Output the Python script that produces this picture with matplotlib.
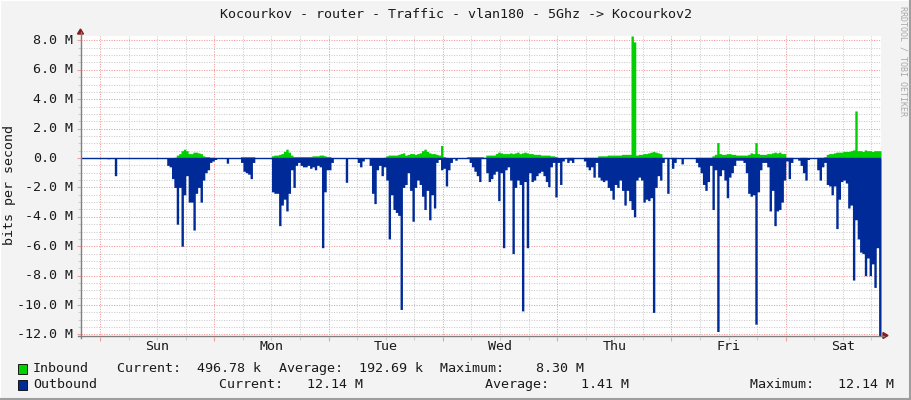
import numpy as np
import matplotlib
matplotlib.use("Agg")
import matplotlib.pyplot as plt
from matplotlib.lines import Line2D
from matplotlib.patches import Polygon, Rectangle
from matplotlib.transforms import blended_transform_factory

W, H = 911, 400

# 30 minute samples in Mbit/s, the week starts Sat 20:00 (8 samples before Sun 00:00)
pre_in = [0, 0, 0, 0, 0, 0, 0, 0]
pre_out = [0, 0, 0, 0, 0, 0, 0, 0]

sun_in = [0, 0, 0, 0, 0, 0, 0, 0,
          0, 0, 0, 0, 0, 0, 0, 0,
          0, 0, 0, 0, 0, 0, 0, 0,
          0, 0, 0, 0, 0, 0, 0, 0.05,
          0.2, 0.3, 0.5, 0.6, 0.5, 0.3, 0.3, 0.4,
          0.4, 0.35, 0.3, 0.15, 0.1, 0.1, 0.05, 0.05]
sun_out = [0, 0, 0, -0.05, 0, 0, -1.2, 0,
           0, 0, 0, 0, 0, 0, 0, 0,
           0, 0, 0, 0, 0, 0, 0, 0,
           0, 0, 0, 0, -0.5, -0.6, -1.4, -2.0,
           -4.5, -2.0, -6.0, -2.5, -1.2, -3.0, -3.0, -4.9,
           -2.4, -2.0, -3.0, -1.5, -1.0, -0.8, -0.3, -0.2]

mon_in = [0, 0, 0, 0, 0, 0, 0, 0,
          0, 0, 0, 0.1, 0.1, 0.1, 0.1, 0.1,
          0.1, 0, 0, 0, 0, 0, 0, 0,
          0.15, 0.2, 0.2, 0.25, 0.3, 0.45, 0.6, 0.4,
          0.2, 0.1, 0.1, 0.1, 0.1, 0.1, 0.1, 0.1,
          0.1, 0.15, 0.15, 0.15, 0.2, 0.2, 0.15, 0.1]
mon_out = [-0.1, 0, 0, 0, 0, -0.35, 0, 0,
           0, 0, 0, -0.3, -0.9, -1.0, -1.1, -1.4,
           -0.3, 0, 0, 0, 0, 0, 0, 0,
           -2.3, -2.4, -2.4, -4.6, -3.2, -2.8, -3.6, -2.4,
           -0.8, -2.0, -0.5, -0.3, -0.5, -0.6, -0.6, -0.5,
           -0.7, -0.6, -0.8, -0.5, -0.6, -6.1, -2.3, -0.8]

tue_in = [0.1, 0, 0, 0, 0, 0, 0, 0,
          0, 0, 0, 0, 0, 0, 0, 0,
          0, 0, 0, 0, 0, 0, 0, 0.05,
          0.15, 0.2, 0.2, 0.2, 0.2, 0.25, 0.3, 0.35,
          0.2, 0.25, 0.3, 0.3, 0.25, 0.3, 0.35, 0.5,
          0.6, 0.45, 0.35, 0.3, 0.3, 0.25, 0.2, 0.85]
tue_out = [-0.8, -0.3, 0, 0, 0, 0, 0, -1.65,
           0, 0, 0, 0, -0.3, -0.6, -0.2, 0,
           0, -0.5, -2.4, -3.1, -0.8, -0.5, -1.2, -0.6,
           -1.5, -5.5, -2.5, -3.5, -3.7, -3.9, -10.3, -2.0,
           -1.8, -1.0, -2.2, -4.3, -2.0, -1.5, -1.8, -2.6,
           -3.5, -2.2, -4.2, -2.5, -3.4, -0.3, -0.1, -0.8]

wed_in = [0.1, 0.05, 0, 0, 0, 0, 0, 0,
          0, 0, 0.1, 0.1, 0.1, 0.1, 0.1, 0.1,
          0.1, 0.05, 0.2, 0.2, 0.2, 0.2, 0.3, 0.4,
          0.35, 0.3, 0.3, 0.3, 0.35, 0.3, 0.35, 0.4,
          0.3, 0.35, 0.4, 0.35, 0.3, 0.3, 0.25, 0.25,
          0.25, 0.2, 0.2, 0.2, 0.2, 0.15, 0.15, 0.1]
wed_out = [-0.7, -1.9, -0.8, -0.3, 0, -0.15, 0, 0,
           0, 0, 0, -0.3, -0.6, -0.9, -1.2, -1.6,
           0, 0, -1.0, -1.6, -1.4, -1.1, -0.9, -2.9,
           -1.0, -6.1, -0.8, -0.6, -1.5, -6.5, -2.0, -1.5,
           -1.8, -10.4, -1.6, -6.1, -1.0, -1.6, -1.5, -1.2,
           -1.0, -0.9, -1.2, -1.6, -1.95, -0.6, -0.3, -2.65]

thu_in = [0, 0, 0, 0, 0.05, 0.05, 0.05, 0,
          0, 0, 0, 0.05, 0.05, 0.05, 0.05, 0.05,
          0.05, 0.15, 0.15, 0.15, 0.15, 0.2, 0.2, 0.2,
          0.2, 0.2, 0.2, 0.25, 0.25, 0.25, 0.25, 8.3,
          7.9, 0.2, 0.25, 0.25, 0.3, 0.3, 0.35, 0.4,
          0.45, 0.4, 0.35, 0.3, 0.05, 0.05, 0.05, 0]
thu_out = [-0.3, -1.8, -0.2, 0, -0.3, -0.15, -0.3, 0,
           0, 0, 0, -0.2, -0.6, -0.8, -0.6, -1.3,
           -0.3, -1.3, -1.5, -1.6, -1.5, -2.0, -2.2, -2.8,
           -1.8, -2.0, -1.5, -2.2, -3.2, -2.2, -2.9, -3.5,
           -4.0, -1.5, -1.3, -1.5, -3.0, -2.8, -2.9, -2.7,
           -10.5, -2.0, -1.2, -1.5, -0.3, 0, -2.4, 0]

fri_in = [0.05, 0.05, 0, 0, 0, 0, 0, 0,
          0, 0, 0.05, 0.05, 0.05, 0.05, 0.05, 0.05,
          0.05, 0.15, 0.25, 1.05, 0.3, 0.25, 0.25, 0.3,
          0.3, 0.25, 0.25, 0.2, 0.2, 0.2, 0.2, 0.2,
          0.25, 0.35, 0.3, 1.05, 0.3, 0.25, 0.25, 0.25,
          0.3, 0.3, 0.35, 0.4, 0.35, 0.4, 0.3, 0.3]
fri_out = [-0.7, -0.3, 0, 0, -0.4, 0, 0, 0,
           0, 0, -0.3, -0.6, -1.0, -1.8, -2.2, -1.6,
           -0.5, -3.5, -0.8, -11.8, -1.2, -0.8, -1.5, -2.7,
           -1.3, -1.0, -0.5, -0.15, -0.15, -0.15, -0.3, -1.0,
           -2.4, -2.6, -2.5, -11.3, -2.3, -0.8, -0.3, -0.3,
           -0.6, -3.6, -2.2, -4.6, -3.6, -3.5, -3.0, -1.5]

sat_in = [0.05, 0.05, 0.05, 0, 0, 0, 0.05, 0.05,
          0.05, 0, 0, 0, 0, 0.05, 0.05, 0.05,
          0.1, 0.25, 0.3, 0.3, 0.35, 0.4, 0.4, 0.4,
          0.45, 0.45, 0.45, 0.5, 0.55, 3.2, 0.5, 0.5,
          0.45, 0.55, 0.5, 0.5, 0.45, 0.5, 0.5, 0.497]
sat_out = [-0.2, -1.4, -0.3, 0, 0, -0.15, -0.5, -1.0,
           -1.5, -0.1, 0, 0, 0, -0.8, -1.5, -0.6,
           -0.3, -1.8, -1.9, -2.5, -1.9, -4.8, -2.8, -1.6,
           -1.5, -1.7, -3.4, -3.2, -8.3, -4.2, -5.5, -6.4,
           -6.5, -8.0, -6.8, -8.0, -7.2, -8.8, -6.1, -12.14]

day_names = ["Sun", "Mon", "Tue", "Wed", "Thu", "Fri", "Sat"]

title = "Kocourkov - router - Traffic - vlan180 - 5Ghz -> Kocourkov2"
legend_rows = [
    ("Inbound", "#00CF00", [(117, "Current:  496.78 k"), (279, "Average:  192.69 k"),
                            (440, "Maximum:    8.30 M")]),
    ("Outbound", "#002A97", [(219, "Current:   12.14 M"), (485, "Average:    1.41 M"),
                             (750, "Maximum:   12.14 M")]),
]

inbound = np.array(pre_in + sun_in + mon_in + tue_in + wed_in + thu_in + fri_in + sat_in)
outbound = np.array(pre_out + sun_out + mon_out + tue_out + wed_out + thu_out + fri_out + sat_out)
hours = -4 + 0.5 * np.arange(len(inbound))
edges = np.append(hours, hours[-1] + 0.5)

MONO = "DejaVu Sans Mono"
FS = 9.6
TXT = "#1A1A1A"


def fx(px):
    return px / W


def fy(py):
    return 1 - py / H


fig = plt.figure(figsize=(W / 100, H / 100), dpi=100, facecolor="#F3F3F3")
top_px, bot_px = 36, 336.5
ax = fig.add_axes([fx(81), fy(bot_px), 800 / W, (bot_px - top_px) / H])
ax.set_facecolor("white")
ax.set_xlim(-4, 164)
ax.set_ylim(-12.14, 8.3)
for s in ax.spines.values():
    s.set_visible(False)

grey = "#CFCFCF"
pink = "#F2A0A0"
dots = (0, (1.1, 1.3))
for h in range(0, 164, 6):
    ax.axvline(h, color=pink if h % 24 == 0 else grey, lw=0.75, ls=dots, zorder=0.5)
for v in np.arange(-12, 8.01, 0.5):
    ax.axhline(v, color=pink if v % 2 == 0 else grey, lw=0.75, ls=dots, zorder=0.5)

ax.fill_between(edges, 0, np.append(inbound, inbound[-1]), step="post",
                color="#00CF00", lw=0, zorder=2)
ax.fill_between(edges, 0, np.append(outbound, outbound[-1]), step="post",
                color="#002A97", lw=0, zorder=2)
ax.axhline(0, color="#002A97", lw=1.0, zorder=3)

# small tick marks outside the plot
ax.set_xticks(range(0, 164, 24))
ax.set_xticks(range(0, 164, 6), minor=True)
ax.set_yticks(range(-12, 9, 2))
ax.set_yticks(np.arange(-12, 8.01, 0.5), minor=True)
ax.tick_params(which="major", length=3, width=0.8, color=pink, labelleft=False, labelbottom=False)
ax.tick_params(which="minor", length=2, width=0.8, color=grey)

ylab_tr = blended_transform_factory(fig.transFigure, ax.transData)
for v in range(-12, 9, 2):
    if v == 0:
        ax.text(fx(57), v, "0.0", transform=ylab_tr, ha="right", va="center",
                family=MONO, fontsize=FS, color=TXT)
    else:
        ax.text(fx(73), v, f"{v:.1f} M", transform=ylab_tr, ha="right", va="center",
                family=MONO, fontsize=FS, color=TXT)

xlab_tr = blended_transform_factory(ax.transData, fig.transFigure)
for d, name in enumerate(day_names):
    ax.text(12 + 24 * d, fy(347), name, transform=xlab_tr, ha="center", va="center",
            family=MONO, fontsize=FS, color=TXT)

# axis lines and arrows
fig.add_artist(Line2D([fx(81), fx(81)], [fy(32), fy(338)], color="#7F7F7F", lw=1.0))
fig.add_artist(Line2D([fx(78), fx(884)], [fy(335.5), fy(335.5)], color="#7F7F7F", lw=1.0))
fig.add_artist(Polygon([[fx(80.5), fy(29)], [fx(77.5), fy(34)], [fx(83.5), fy(34)]],
                       closed=True, color="#8B1A1A", transform=fig.transFigure))
fig.add_artist(Polygon([[fx(888), fy(335.5)], [fx(883), fy(332.5)], [fx(883), fy(338.5)]],
                       closed=True, color="#8B1A1A", transform=fig.transFigure))

fig.text(fx(455.5), fy(14), title, ha="center", va="center", family=MONO, fontsize=FS, color=TXT)
fig.text(fx(10), fy(185), "bits per second", rotation=90, ha="center", va="center",
         family=MONO, fontsize=FS, color=TXT)
fig.text(fx(903), fy(61), "RRDTOOL / TOBI OETIKER", rotation=270, ha="center", va="center",
         family=MONO, fontsize=6, color="#A8A8A8")

for r, (label, col, items) in enumerate(legend_rows):
    yc = 368.5 + 16 * r
    fig.add_artist(Rectangle((fx(17.5), fy(yc + 5)), 9.5 / W, 10 / H, facecolor=col,
                             edgecolor="#000000", lw=0.6, transform=fig.transFigure))
    fig.text(fx(33), fy(yc), label, ha="left", va="center", family=MONO, fontsize=FS, color=TXT)
    for x, s in items:
        fig.text(fx(x), fy(yc), s, ha="left", va="center", family=MONO, fontsize=FS, color=TXT)

# 3d frame around the image
fig.add_artist(Line2D([0, 0, 1], [0, 1, 1], color="white", lw=1.5))
fig.add_artist(Line2D([0, 1, 1], [fy(399), fy(399), 1], color="#9E9E9E", lw=1.5))
fig.add_artist(Line2D([fx(909.5), fx(909.5)], [0, 1], color="#9E9E9E", lw=1.5))

fig.savefig("out.png", dpi=100, facecolor=fig.get_facecolor())
